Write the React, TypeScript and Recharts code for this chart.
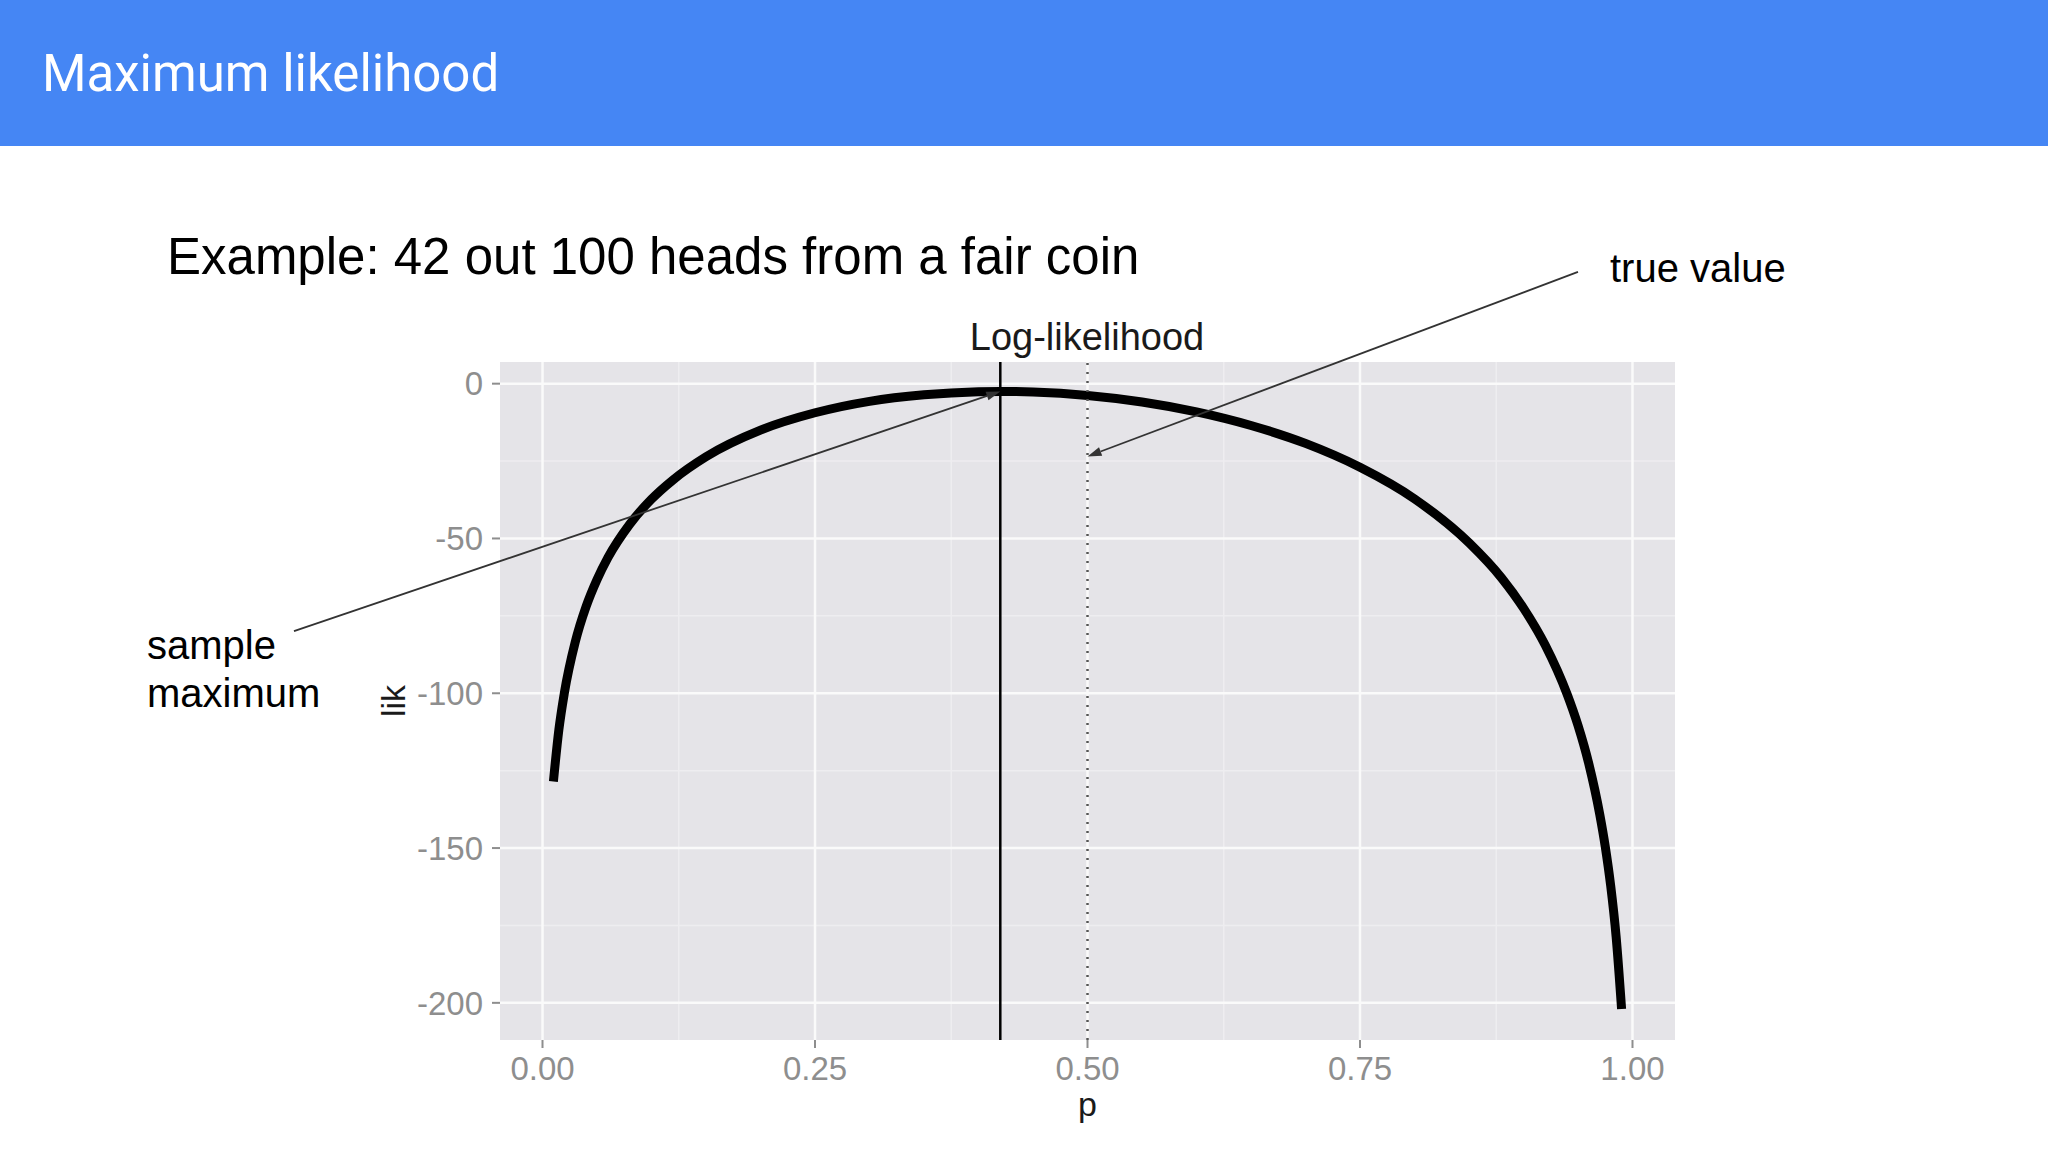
import React from 'react';
import {
    LineChart,
    Line,
    XAxis,
    YAxis,
    CartesianGrid,
    ReferenceLine,
} from 'recharts';

// log-likelihood of p for 42 heads out of 100
const pValues = [
    0.01, 0.015, 0.02, 0.03, 0.04, 0.05, 0.06, 0.08, 0.1, 0.12, 0.15, 0.2, 0.25,
    0.3, 0.35, 0.4, 0.42, 0.45, 0.5, 0.55, 0.6, 0.65, 0.7, 0.75, 0.8, 0.85, 0.88,
    0.9, 0.92, 0.94, 0.95, 0.96, 0.97, 0.975, 0.98, 0.985, 0.99,
];
const likValues = [
    -128.5, -111.8, -100.0, -83.5, -72.0, -63.3, -56.2, -45.4, -37.3, -31.0,
    -23.6, -15.0, -9.4, -5.7, -3.6, -2.6, -2.5, -2.7, -3.8, -5.9, -9.1, -13.5,
    -19.3, -27.0, -37.2, -51.4, -62.8, -72.5, -84.5, -100.3, -110.4, -122.9,
    -139.2, -149.5, -162.2, -178.7, -202.0,
];

const xTicks = [0, 0.25, 0.5, 0.75, 1];
const xMinor = [0.125, 0.375, 0.625, 0.875];
const yTicks = [0, -50, -100, -150, -200];
const yMinor = [-25, -75, -125, -175];

const sampleMax = { p: 0.42, lik: -2.5 };
const trueValue = { p: 0.5, lik: -23.5 };
// where the annotation arrows start (outside the panel, in data units)
const sampleArrowTail = { p: -0.228, lik: -79.9 };
const trueArrowTail = { p: 0.95, lik: 36.1 };

const data = pValues.map((p, i) => ({ p, lik: likValues[i] }));

const SANS = '"Liberation Sans", Arial, Helvetica, sans-serif';
const TICK_STYLE = { fill: '#8e8e8e', fontSize: 33, fontFamily: SANS };

function Arrow(props: any) {
    const { x1, y1, x2, y2 } = props;
    const ang = Math.atan2(y2 - y1, x2 - x1);
    const len = 14;
    const half = 4.5;
    const bx = x2 - len * Math.cos(ang);
    const by = y2 - len * Math.sin(ang);
    const px = -Math.sin(ang) * half;
    const py = Math.cos(ang) * half;
    return (
        <g>
            <line x1={x1} y1={y1} x2={bx} y2={by} stroke="#333" strokeWidth={1.8} />
            <polygon
                points={`${x2},${y2} ${bx + px},${by + py} ${bx - px},${by - py}`}
                fill="#333"
            />
        </g>
    );
}

export default function App() {
    return (
        <div
            style={{
                position: 'absolute',
                left: 0,
                top: 0,
                width: 2048,
                height: 1152,
                background: '#ffffff',
                overflow: 'hidden',
            }}
        >
            <svg
                width={2048}
                height={1152}
                style={{ position: 'absolute', left: 0, top: 0 }}
            >
                <rect x={0} y={0} width={2048} height={146} fill="#4586f4" />
                <text
                    x={42}
                    y={91}
                    fill="#ffffff"
                    fontSize={51}
                    fontFamily="Roboto, sans-serif"
                >
                    Maximum likelihood
                </text>
                <text x={167} y={274} fill="#000" fontSize={51} fontFamily={SANS}>
                    Example: 42 out 100 heads from a fair coin
                </text>
                <text x={1610} y={282} fill="#000" fontSize={40} fontFamily={SANS}>
                    true value
                </text>
                <text x={147} y={659} fill="#000" fontSize={40} fontFamily={SANS}>
                    sample
                </text>
                <text x={147} y={707} fill="#000" fontSize={40} fontFamily={SANS}>
                    maximum
                </text>
                <text
                    x={1087}
                    y={350}
                    fill="#1a1a1a"
                    fontSize={38}
                    fontFamily={SANS}
                    textAnchor="middle"
                >
                    Log-likelihood
                </text>
            </svg>
            <div style={{ position: 'absolute', left: 0, top: 0 }}>
                <LineChart
                    width={2048}
                    height={1152}
                    data={data}
                    margin={{ top: 362, right: 373, left: 380, bottom: 22 }}
                >
                    <CartesianGrid
                        fill="#e5e4e8"
                        stroke="#eeedf0"
                        strokeWidth={1.5}
                        verticalValues={xMinor}
                        horizontalValues={yMinor}
                    />
                    <CartesianGrid
                        stroke="#fafafa"
                        strokeWidth={2.5}
                        verticalValues={xTicks}
                        horizontalValues={yTicks}
                    />
                    <XAxis
                        dataKey="p"
                        type="number"
                        domain={[-0.039, 1.039]}
                        allowDataOverflow
                        ticks={xTicks}
                        interval={0}
                        tickFormatter={(v: number) => v.toFixed(2)}
                        height={90}
                        axisLine={false}
                        tickSize={8}
                        tickMargin={9}
                        tickLine={{ stroke: '#8e8e8e', strokeWidth: 2 }}
                        tick={TICK_STYLE}
                        label={{
                            content: ({ viewBox }: any) => (
                                <text
                                    x={viewBox.x + viewBox.width / 2}
                                    y={viewBox.y + 76}
                                    textAnchor="middle"
                                    fill="#1a1a1a"
                                    fontSize={34}
                                    fontFamily={SANS}
                                >
                                    p
                                </text>
                            ),
                        }}
                    />
                    <YAxis
                        type="number"
                        domain={[-212, 7]}
                        allowDataOverflow
                        ticks={yTicks}
                        interval={0}
                        width={120}
                        axisLine={false}
                        tickSize={8}
                        tickMargin={9}
                        tickLine={{ stroke: '#8e8e8e', strokeWidth: 2 }}
                        tick={TICK_STYLE}
                        label={{
                            content: ({ viewBox }: any) => {
                                const cx = viewBox.x + 13;
                                const cy = viewBox.y + viewBox.height / 2;
                                return (
                                    <text
                                        x={cx}
                                        y={cy}
                                        transform={`rotate(-90, ${cx}, ${cy})`}
                                        textAnchor="middle"
                                        dominantBaseline="central"
                                        fill="#1a1a1a"
                                        fontSize={34}
                                        fontFamily={SANS}
                                    >
                                        lik
                                    </text>
                                );
                            },
                        }}
                    />
                    <Line
                        type="monotone"
                        dataKey="lik"
                        stroke="#000"
                        strokeWidth={9}
                        strokeLinecap="butt"
                        strokeLinejoin="round"
                        dot={false}
                        activeDot={false}
                        isAnimationActive={false}
                    />
                    <ReferenceLine x={sampleMax.p} stroke="#000" strokeWidth={2.5} />
                    <ReferenceLine
                        x={trueValue.p}
                        stroke="#555"
                        strokeWidth={2.5}
                        strokeDasharray="2 7"
                    />
                    <ReferenceLine
                        ifOverflow="visible"
                        segment={[
                            { x: sampleArrowTail.p, y: sampleArrowTail.lik },
                            { x: sampleMax.p, y: sampleMax.lik },
                        ]}
                        shape={(props: any) => <Arrow {...props} />}
                    />
                    <ReferenceLine
                        ifOverflow="visible"
                        segment={[
                            { x: trueArrowTail.p, y: trueArrowTail.lik },
                            { x: trueValue.p, y: trueValue.lik },
                        ]}
                        shape={(props: any) => <Arrow {...props} />}
                    />
                </LineChart>
            </div>
        </div>
    );
}
